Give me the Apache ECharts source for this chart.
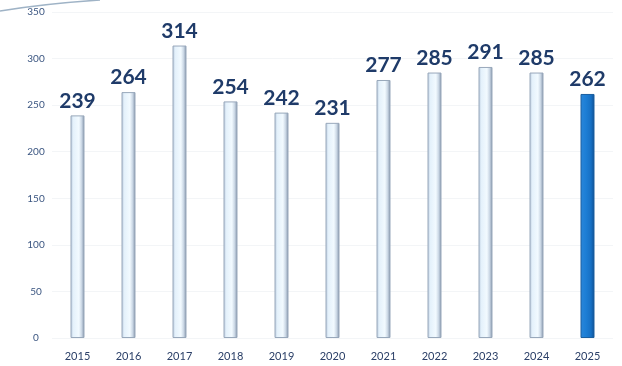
<!DOCTYPE html>
<html>
<head>
<meta charset="utf-8">
<script src="https://cdn.jsdelivr.net/npm/echarts@6/dist/echarts.min.js"></script>
<style>
  html, body { margin: 0; padding: 0; background: #ffffff; }
  #chart { width: 622px; height: 366px; }
</style>
</head>
<body>
<div id="chart"></div>
<script>
const years = ['2015', '2016', '2017', '2018', '2019', '2020', '2021', '2022', '2023', '2024', '2025'];
const counts = [239, 264, 314, 254, 242, 231, 277, 285, 291, 285, 262];
const yTicks = { min: 0, max: 350, interval: 50 };

const paleFill = new echarts.graphic.LinearGradient(0, 0, 1, 0, [
  { offset: 0, color: '#b9c9dc' },
  { offset: 0.2, color: '#e4f1fb' },
  { offset: 0.6, color: '#f2faff' },
  { offset: 0.8, color: '#c9d6e4' },
  { offset: 1, color: '#7f8fa6' }
]);
const blueFill = new echarts.graphic.LinearGradient(0, 0, 1, 0, [
  { offset: 0, color: '#2b86d8' },
  { offset: 0.35, color: '#1d7fd6' },
  { offset: 0.75, color: '#1670c4' },
  { offset: 1, color: '#0f4f92' }
]);

const barData = counts.map((v, i) => ({
  value: v,
  itemStyle: i === counts.length - 1
    ? { color: blueFill, borderColor: '#1a5f9f', borderWidth: 1 }
    : { color: paleFill, borderColor: '#98a8bb', borderWidth: 1 }
}));

const chart = echarts.init(document.getElementById('chart'), null, { renderer: 'canvas' });
chart.setOption({
  animation: false,
  backgroundColor: '#ffffff',
  grid: { left: 52, right: 9, top: 12, bottom: 28 },
  xAxis: {
    type: 'category',
    data: years,
    axisLine: { show: false },
    axisTick: { show: false },
    axisLabel: {
      color: '#2c4068',
      fontFamily: 'Lato, "Open Sans", sans-serif',
      fontSize: 11,
      margin: 13
    }
  },
  yAxis: {
    type: 'value',
    min: yTicks.min,
    max: yTicks.max,
    interval: yTicks.interval,
    axisLine: { show: false },
    axisTick: { show: false },
    splitLine: { lineStyle: { color: '#f3f5f7', width: 1 } },
    axisLabel: {
      color: '#3a5580',
      fontFamily: 'Lato, "Open Sans", sans-serif',
      fontSize: 10,
      margin: 16,
      align: 'center'
    }
  },
  series: [{
    type: 'bar',
    data: barData,
    barWidth: 14,
    label: {
      show: true,
      position: 'top',
      distance: 4,
      color: '#1f3b69',
      fontFamily: 'Lato, "Open Sans", sans-serif',
      fontWeight: 'bold',
      fontSize: 21
    }
  }],
  graphic: [{
    type: 'bezierCurve',
    shape: { x1: 0, y1: 11, cpx1: 30, cpy1: 6, cpx2: 70, cpy2: 2, x2: 100, y2: 0 },
    style: { stroke: '#9fb3c6', lineWidth: 1.5, fill: 'none' }
  }]
});
</script>
</body>
</html>
